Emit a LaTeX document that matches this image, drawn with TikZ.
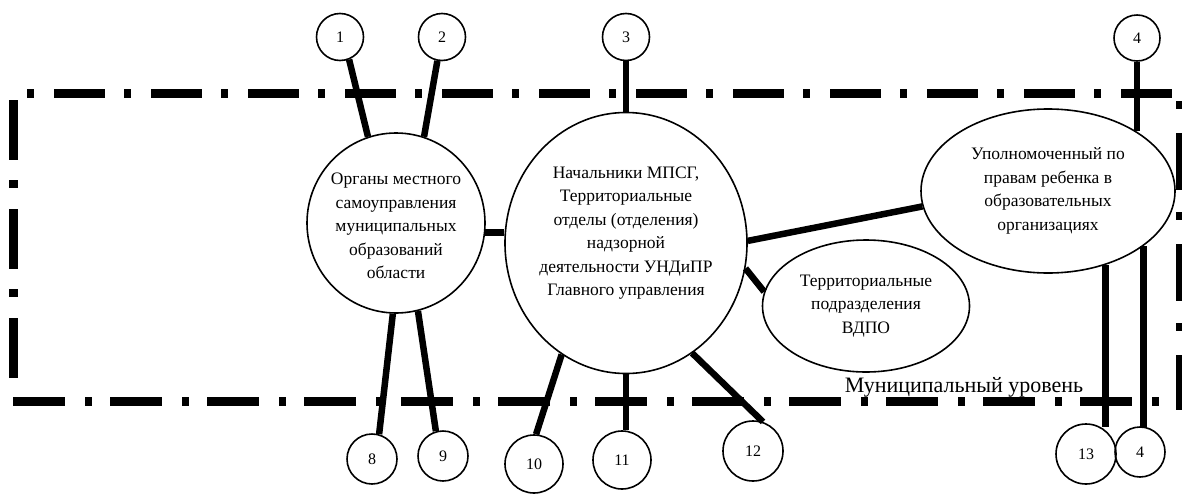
\documentclass[tikz,border=0pt]{standalone}
\usepackage{fontspec}
\setmainfont{Liberation Serif}
\usetikzlibrary{shapes.geometric}
\begin{document}
\begin{tikzpicture}[x=1pt,y=-1pt,
  num/.style={draw, circle, line width=1.6pt, minimum size=#1, inner sep=0pt,
              font=\fontsize{16}{18}\selectfont},
  unit/.style={draw, ellipse, line width=1.6pt, inner sep=0pt},
  txt/.style={align=center, inner sep=0pt, font=\fontsize{17.5}{23.5}\selectfont},
  link/.style={line width=6.5pt},
  border/.style={line width=9pt}]
\useasboundingbox (0,0) rectangle (1182,493);

% dash-dotted frame of the municipal level
\draw[border, dash pattern=on 7pt off 20pt on 51pt off 19pt] (27,93.5) -- (1172,93.5);
\draw[border, dash pattern=on 52pt off 20pt on 7pt off 18pt] (13,401.5) -- (1165,401.5);
\draw[border, dash pattern=on 60pt off 20pt on 8pt off 21pt] (13.5,100) -- (13.5,397);
\draw[border, dash pattern=on 8pt off 24pt on 57pt off 22pt] (1180,101) -- (1180,410);

% main bodies
\node[unit, minimum width=178pt, minimum height=180pt,
      label={[txt, yshift=-3pt]center:{Органы местного\\самоуправления\\муниципальных\\образований\\области}}]
      (org) at (396,223) {};
\node[unit, minimum width=242pt, minimum height=261pt,
      label={[txt, yshift=10pt]center:{Начальники МПСГ,\\Территориальные\\отделы (отделения)\\надзорной\\деятельности УНДиПР\\Главного управления}}]
      (big) at (626,243) {};
\node[unit, minimum width=254pt, minimum height=164pt,
      label={[txt]center:{Уполномоченный по\\правам ребенка в\\образовательных\\организациях}}]
      (upl) at (1048,191) {};
\node[unit, minimum width=207pt, minimum height=132pt,
      label={[txt]center:{Территориальные\\подразделения\\ВДПО}}]
      (vdpo) at (866,306) {};

% numbered circles
\node[num=47pt] (c1) at (340,37) {1};
\node[num=47pt] (c2) at (442,37) {2};
\node[num=47pt] (c3) at (626,37) {3};
\node[num=46pt] (c4t) at (1137,38) {4};
\node[num=50pt] (c8) at (372,459) {8};
\node[num=50pt] (c9) at (443,456) {9};
\node[num=58pt] (c10) at (534,464) {10};
\node[num=58pt] (c11) at (622,460) {11};
\node[num=60pt] (c12) at (753,451) {12};
\node[num=60pt] (c13) at (1086,454) {13};
\node[num=50pt] (c4b) at (1140,452) {4};

\node[font=\fontsize{22}{24}\selectfont, inner sep=0pt, anchor=base] (lvl) at (964,392) {Муниципальный уровень};

% connectors
\draw[link] (c1.-68) -- (org.108);
\draw[link] (c2.-101) -- (org.72);
\draw[link] (c3.south) -- (c3.south |- big.north);
\draw[link] (c4t.south) -- (c4t.south |- upl.34);
\draw[link] (org.-6) -- (org.-6 -| big.west);
\draw[link] (big.1) -- (upl.187);
\draw[link] (big.-12) -- (vdpo.172);
\draw[link] (org.-92) -- (c8.74);
\draw[link] (org.-76) -- (c9.106);
\draw[link] (big.240) -- (c10.86);
\draw[link] (big.south) -- (big.south |- c11.north);
\draw[link] (big.-59) -- (c12.71);
\draw[link] (upl.-52) -- (upl.-52 |- c13.60);
\draw[link] (upl.-30) -- (upl.-30 |- c4b.100);
\end{tikzpicture}
\end{document}
